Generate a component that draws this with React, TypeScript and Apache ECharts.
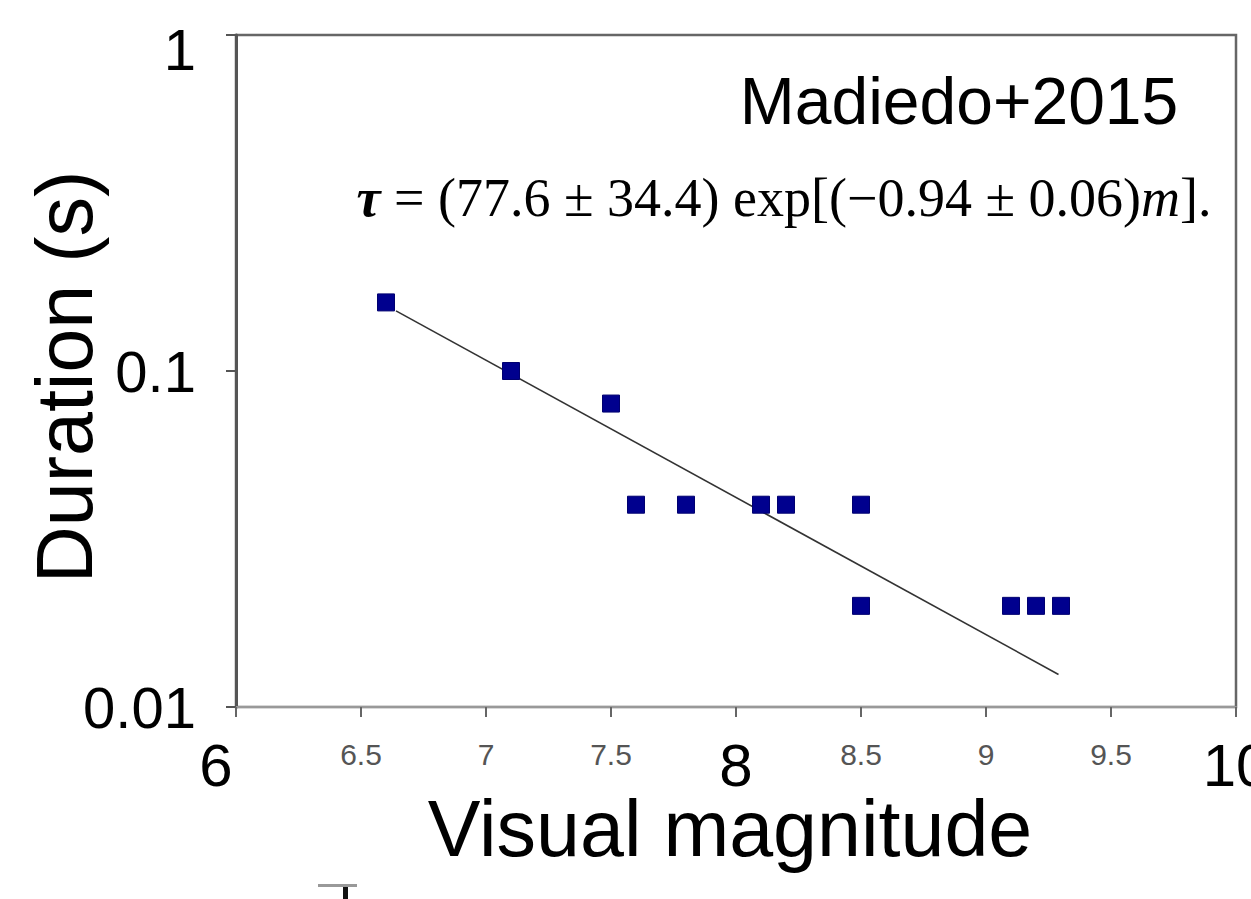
import React, { useEffect, useRef } from "react";
import * as echarts from "echarts";

// Observed meteor flashes (Madiedo+2015)
const magnitudes: number[] = [6.6, 7.1, 7.5, 7.6, 7.8, 8.1, 8.2, 8.5, 8.5, 9.1, 9.2, 9.3];
const durations: number[] = [0.16, 0.1, 0.08, 0.04, 0.04, 0.04, 0.04, 0.04, 0.02, 0.02, 0.02, 0.02];

// Fit line endpoints
const fitMagnitudes: number[] = [6.64, 9.29];
const fitDurations: number[] = [0.151, 0.0125];

const xBigLabels: number[] = [6, 8, 10];
const yTickLabels: string[] = ["0.01", "0.1", "1"];

const titleText = "Madiedo+2015";
const xTitle = "Visual magnitude";
const yTitle = "Duration (s)";

export default function App() {
  const ref = useRef<HTMLDivElement>(null);

  useEffect(() => {
    if (!ref.current) return;
    const chart = echarts.init(ref.current, undefined, { renderer: "svg" });

    const points = magnitudes.map((m, i) => [m, durations[i]]);
    const fit = fitMagnitudes.map((m, i) => [m, fitDurations[i]]);

    const option: any = {
      animation: false,
      backgroundColor: "#ffffff",
      grid: {
        left: 236,
        top: 35,
        right: 15,
        bottom: 192,
        outerBoundsMode: "none",
        containLabel: false,
        show: true,
        borderColor: "#666",
        borderWidth: 2.5,
        backgroundColor: "transparent",
      },
      xAxis: {
        type: "value",
        min: 6,
        max: 10,
        interval: 0.5,
        splitLine: { show: false },
        axisLine: { show: true, lineStyle: { color: "#999", width: 2 } },
        axisTick: { show: true, length: 10, lineStyle: { color: "#666", width: 2 } },
        axisLabel: {
          interval: 0,
          hideOverlap: false,
          showMinLabel: true,
          showMaxLabel: true,
          margin: 32,
          formatter: (v: number) => {
            if (xBigLabels.includes(v)) {
              return v === 6 ? `{bigL|${v}}` : `{big|${v}}`;
            }
            return `{small|${v}}`;
          },
          rich: {
            big: { fontSize: 60, lineHeight: 52, color: "#000", fontFamily: "Liberation Sans" },
            bigL: {
              fontSize: 60,
              lineHeight: 52,
              color: "#000",
              fontFamily: "Liberation Sans",
              padding: [0, 40, 0, 0],
            },
            small: {
              fontSize: 30,
              lineHeight: 30,
              color: "#555",
              fontFamily: "Liberation Sans",
            },
          },
        },
      },
      yAxis: {
        type: "log",
        logBase: 10,
        min: 0.01,
        max: 1,
        splitLine: { show: false },
        axisLine: { show: true, lineStyle: { color: "#555", width: 3 } },
        axisTick: { show: true, length: 10, lineStyle: { color: "#555", width: 2 } },
        axisLabel: {
          margin: 40,
          color: "#000",
          showMinLabel: true,
          showMaxLabel: true,
          formatter: (v: number) => {
            if (v >= 0.5) return `{top|${yTickLabels[2]}}`;
            if (v >= 0.05) return `{lab|${yTickLabels[1]}}`;
            return `{lab|${yTickLabels[0]}}`;
          },
          rich: {
            lab: { fontSize: 58, lineHeight: 58, color: "#000", fontFamily: "Liberation Sans" },
            top: {
              fontSize: 58,
              lineHeight: 58,
              color: "#000",
              fontFamily: "Liberation Sans",
              padding: [28, 0, 0, 0],
            },
          },
        },
      },
      series: [
        {
          type: "line",
          data: fit,
          showSymbol: false,
          symbol: "none",
          lineStyle: { color: "#333", width: 1.6 },
          z: 2,
        },
        {
          type: "scatter",
          data: points,
          symbol: "rect",
          symbolSize: 17,
          itemStyle: { color: "#00008e", borderColor: "#000070", borderWidth: 1, opacity: 1 },
          z: 3,
        },
      ],
      graphic: [
        {
          type: "text",
          x: 959,
          y: 101,
          style: {
            text: titleText,
            fontSize: 66,
            fontFamily: "Liberation Sans",
            fill: "#000",
            align: "center",
            verticalAlign: "middle",
          },
        },
        {
          type: "text",
          x: 784,
          y: 198,
          style: {
            text: "{t|\u03c4}{n| = (77.6 \u00b1 34.4) exp[(\u22120.94 \u00b1 0.06)}{i|m}{n|].}",
            align: "center",
            verticalAlign: "middle",
            rich: {
              t: {
                fontSize: 54,
                fontFamily: "Liberation Serif",
                fill: "#000",
                fontWeight: "bold",
                fontStyle: "italic",
              },
              n: { fontSize: 54, fontFamily: "Liberation Serif", fill: "#000", fontWeight: "normal" },
              i: { fontSize: 54, fontFamily: "Liberation Serif", fill: "#000", fontStyle: "italic" },
            },
          },
        },
        {
          type: "text",
          x: 730,
          y: 828,
          style: {
            text: xTitle,
            fontSize: 79,
            lineHeight: 60,
            fontFamily: "Liberation Sans",
            fill: "#000",
            align: "center",
            verticalAlign: "middle",
          },
        },
        {
          type: "text",
          x: 64,
          y: 377,
          rotation: Math.PI / 2,
          style: {
            text: yTitle,
            fontSize: 79,
            fontFamily: "Liberation Sans",
            fill: "#000",
            align: "center",
            verticalAlign: "middle",
          },
        },
        {
          type: "rect",
          shape: { x: 318, y: 884, width: 39, height: 3 },
          style: { fill: "#999" },
        },
        {
          type: "rect",
          shape: { x: 343, y: 887, width: 5, height: 12 },
          style: { fill: "#111" },
        },
      ],
    };

    chart.setOption(option);
    return () => chart.dispose();
  }, []);

  return (
    <div
      ref={ref}
      style={{ position: "fixed", left: 0, top: 0, width: 1251, height: 899, background: "#fff" }}
    />
  );
}
